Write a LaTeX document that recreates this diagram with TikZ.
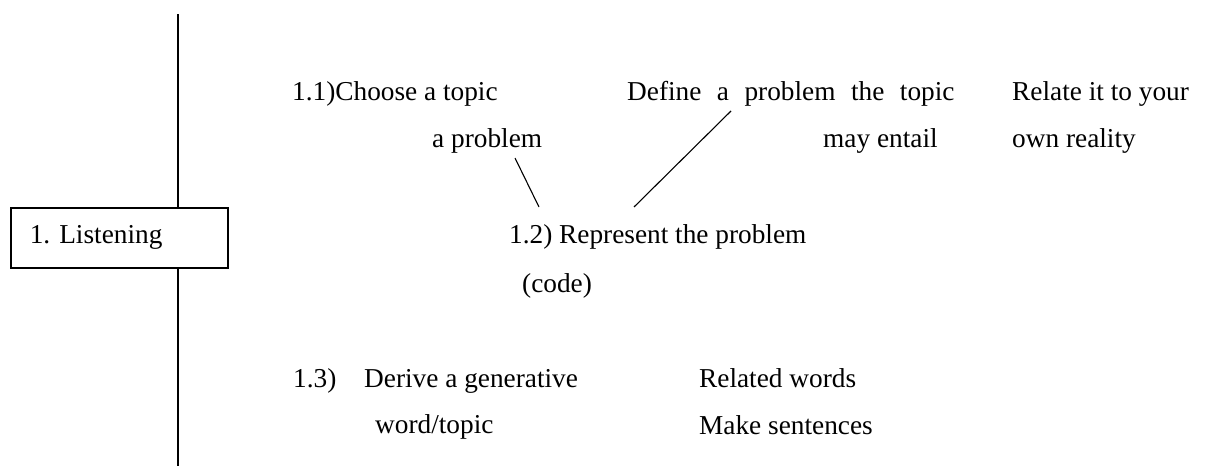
\documentclass[tikz,border=0pt]{standalone}
\usepackage{fontspec}
\setmainfont{Liberation Serif}
\frenchspacing
\begin{document}
\begin{tikzpicture}[x=1pt,y=-1pt,
  txt/.style={anchor=base west, inner sep=0pt, font=\fontsize{27.3}{32}\selectfont},
  conn/.style={line width=1.1pt, black},
  stagebox/.style={draw, line width=1.5pt, anchor=north west, minimum height=60pt,
    text width=179pt, inner xsep=19pt, inner ysep=0pt, align=left,
    font=\fontsize{27.3}{32}\selectfont}]
\useasboundingbox (0,0) rectangle (1208,466);
% stage box and vertical line
\node[stagebox] (box) at (10,207) {1.\ Listening};
\coordinate (ltop) at (178,14);
\coordinate (lbot) at (178,466);
\draw[conn] (ltop) -- (ltop |- box.north);
\draw[conn] (ltop |- box.south) -- (lbot);
% 1.1
\node[txt] (choose) at (292,100) {1.1)Choose a topic};
\node[txt] (aprob) at (432,147) {a problem};
\node[txt] (define) at (627,100) {Define\hskip15.5pt a\hskip15.5pt problem\hskip15.5pt the\hskip15.5pt topic};
\node[txt] (entail) at (823,147) {may entail};
\node[txt] (relate) at (1012,100) {Relate it to your};
\node[txt] (reality) at (1012,147) {own reality};
% 1.2
\node[txt] (repr) at (509,243) {1.2) Represent the problem};
\node[txt] (code) at (522,292) {(code)};
% 1.3
\node[txt] (n13) at (293,387) {1.3)};
\node[txt] (derive) at (364,387) {Derive a generative};
\node[txt] (wordtopic) at (375,433) {word/topic};
\node[txt] (related) at (699,387) {Related words};
\node[txt] (sentences) at (699,434) {Make sentences};
% connectors
\coordinate (c1a) at (515,158);
\coordinate (c1b) at (539,207);
\coordinate (c2a) at (731,111);
\coordinate (c2b) at (634,207);
\draw[conn] (c1a) -- (c1b);
\draw[conn] (c2a) -- (c2b);
\end{tikzpicture}
\end{document}
